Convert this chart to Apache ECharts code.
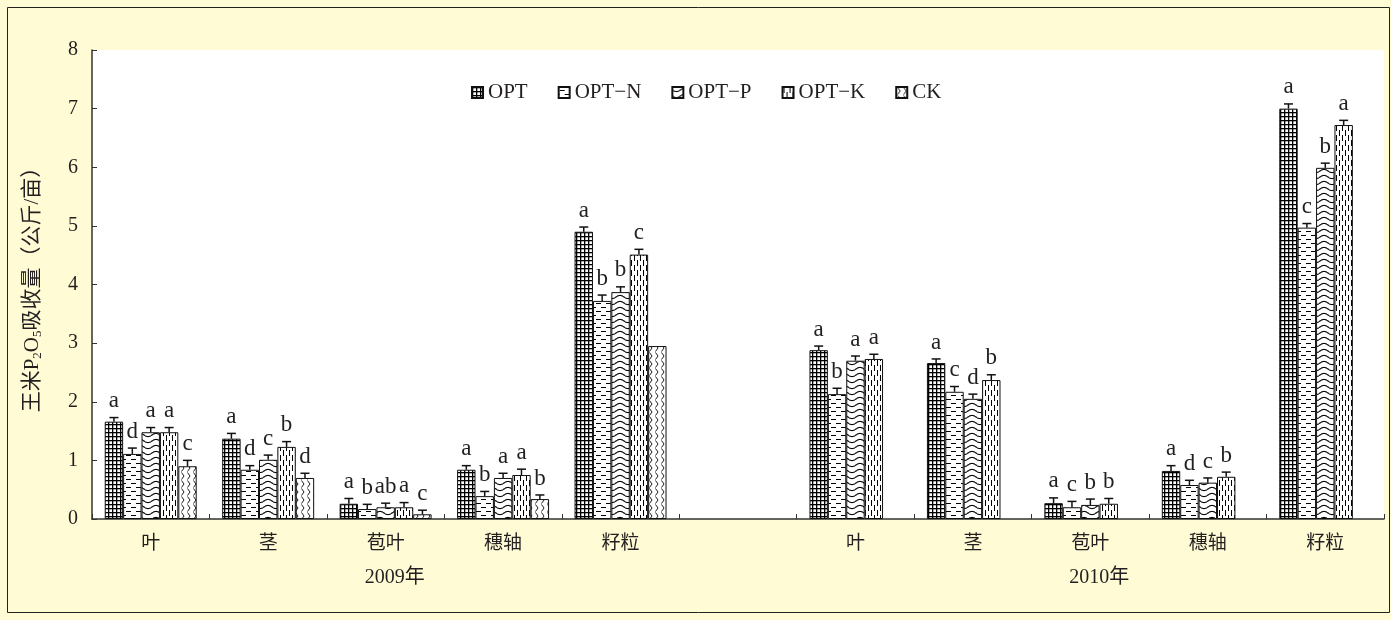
<!DOCTYPE html>
<html>
<head>
<meta charset="utf-8">
<script src="https://cdn.jsdelivr.net/npm/echarts@6/dist/echarts.min.js"></script>
<style>
html,body{margin:0;padding:0;background:#fffbd5;}
#chart{width:1391px;height:620px;}
</style>
</head>
<body>
<div id="chart"></div>
<script>
// ---- data ----
const categories = ['叶','茎','苞叶','穗轴','籽粒','','叶','茎','苞叶','穗轴','籽粒'];
const years = {2: '2009年', 8: '2010年'};
const seriesNames = ['OPT','OPT−N','OPT−P','OPT−K','CK'];
const yTicks = [0,1,2,3,4,5,6,7,8];

const valOPT  = [1.66, 1.37, 0.26, 0.84, 4.90, null, 2.88, 2.66, 0.27, 0.82, 7.00];
const valOPTN = [1.11, 0.84, 0.17, 0.39, 3.72, null, 2.13, 2.17, 0.20, 0.58, 4.97];
const valOPTP = [1.48, 1.01, 0.20, 0.70, 3.87, null, 2.70, 2.05, 0.24, 0.62, 5.99];
const valOPTK = [1.48, 1.23, 0.20, 0.75, 4.51, null, 2.73, 2.37, 0.26, 0.72, 6.72];
const valCK   = [0.90, 0.70, 0.08, 0.34, 2.95, null, null, null, null, null, null];

const errOPT  = [0.07, 0.09, 0.09, 0.07, 0.08, null, 0.07, 0.07, 0.09, 0.09, 0.08];
const errOPTN = [0.10, 0.07, 0.08, 0.08, 0.10, null, 0.10, 0.09, 0.10, 0.08, 0.07];
const errOPTP = [0.08, 0.08, 0.07, 0.08, 0.09, null, 0.08, 0.08, 0.10, 0.08, 0.08];
const errOPTK = [0.08, 0.09, 0.08, 0.10, 0.09, null, 0.08, 0.09, 0.09, 0.08, 0.08];
const errCK   = [0.10, 0.08, 0.07, 0.07, null, null, null, null, null, null, null];

const sigOPT  = ['a','a','a','a','a','', 'a','a','a','a','a'];
const sigOPTN = ['d','d','b','b','b','', 'b','c','c','d','c'];
const sigOPTP = ['a','c','ab','a','b','', 'a','d','b','c','b'];
const sigOPTK = ['a','b','a','a','c','', 'a','b','b','b','a'];
const sigCK   = ['c','d','c','b','', '', '','','','',''];

const values = [valOPT, valOPTN, valOPTP, valOPTK, valCK];
const errors = [errOPT, errOPTN, errOPTP, errOPTK, errCK];
const sigs   = [sigOPT, sigOPTN, sigOPTP, sigOPTK, sigCK];

// ---- styles ----
const SERIF = '"Liberation Serif","Noto Sans CJK SC",serif';
const TXT = '#231f20';
const CAT_GAP = 0.217;

function pat(w, h, draw) {
  const c = document.createElement('canvas');
  c.width = w; c.height = h;
  const g = c.getContext('2d');
  g.fillStyle = '#fff'; g.fillRect(0, 0, w, h);
  g.fillStyle = '#000'; g.strokeStyle = '#000';
  draw(g, w, h);
  return {image: c, repeat: 'repeat'};
}
const patterns = [
  pat(4, 4, g => { g.fillRect(0, 0, 4, 1.3); g.fillRect(0, 0, 1.3, 4); }),
  pat(10, 8, g => { g.fillRect(1, 3, 5, 1); g.fillRect(6, 7, 4, 1); g.fillRect(0, 7, 1, 1); }),
  pat(16, 6, (g, w) => {
    g.lineWidth = 1.1; g.beginPath();
    for (let x = -1; x <= w + 1; x += 0.5) {
      const y = 3 + 1.6 * Math.sin(2 * Math.PI * x / w);
      if (x === -1) g.moveTo(x, y); else g.lineTo(x, y);
    }
    g.stroke();
  }),
  pat(6, 10, g => { g.fillRect(1, 0, 1, 6); g.fillRect(4, 5, 1, 5); g.fillRect(4, 0, 1, 1); }),
  pat(6, 8, g => { g.lineWidth = 0.9; g.beginPath(); g.moveTo(1.5, 0.5); g.lineTo(4, 4); g.lineTo(1.5, 7.5); g.stroke(); })
];

const chart = echarts.init(document.getElementById('chart'));

const barSeries = seriesNames.map((name, i) => ({
  name: name,
  type: 'bar',
  barGap: 0,
  barCategoryGap: (CAT_GAP * 100) + '%',
  data: values[i].map(v => v == null ? '-' : v),
  itemStyle: {color: patterns[i], borderColor: '#111', borderWidth: 1},
  emphasis: {disabled: true},
  z: 2
}));

const errSeries = seriesNames.map((name, i) => ({
  type: 'custom',
  silent: true,
  z: 5,
  data: values[i].map((v, k) => [k, v, errors[i][k]]).filter(d => d[1] != null && d[2] != null),
  renderItem: function (params, api) {
    const k = api.value(0), v = api.value(1), e = api.value(2);
    const band = api.size([1, 0])[0];
    const bw = band * (1 - CAT_GAP) / seriesNames.length;
    const base = api.coord([k, v]);
    const x = base[0] + (i - (seriesNames.length - 1) / 2) * bw;
    const y0 = base[1];
    const y1 = api.coord([k, v + e])[1];
    const ls = {stroke: '#111', lineWidth: 1.5};
    return {
      type: 'group',
      children: [
        {type: 'line', shape: {x1: x, y1: y0, x2: x, y2: y1}, style: ls},
        {type: 'line', shape: {x1: x - 4.5, y1: y1, x2: x + 4.5, y2: y1}, style: ls},
        {type: 'text', x: x, y: y1 - 5, style: {text: sigs[i][k], font: '23px ' + SERIF, fill: TXT, align: 'center', verticalAlign: 'bottom'}}
      ]
    };
  }
}));

chart.setOption({
  backgroundColor: '#fffbd5',
  animation: false,
  graphic: [{
    type: 'rect', silent: true, z: 100,
    shape: {x: 7.5, y: 7.5, width: 1382, height: 605},
    style: {fill: 'none', stroke: '#222', lineWidth: 1}
  }],
  legend: {
    data: seriesNames,
    left: 466, top: 77,
    itemWidth: 11, itemHeight: 11,
    itemGap: 30,
    icon: 'rect',
    textStyle: {fontFamily: SERIF, fontSize: 21, color: TXT, padding: [0, 0, 0, 0]},
    selectedMode: false
  },
  grid: {left: 92, right: 7, top: 50, bottom: 101, show: true, backgroundColor: '#fff', borderWidth: 0},
  xAxis: {
    type: 'category',
    data: categories,
    boundaryGap: true,
    axisLine: {lineStyle: {color: '#333', width: 1.5}},
    axisTick: {show: true, inside: true, length: 5, lineStyle: {color: '#333'}},
    axisLabel: {
      interval: 0,
      margin: 9,
      color: TXT,
      formatter: function (v, idx) {
        if (years[idx]) return '{c|' + v + '}\n{y|' + years[idx] + '}';
        return '{c|' + v + '}';
      },
      rich: {
        c: {fontFamily: SERIF, fontSize: 19, lineHeight: 33, color: TXT},
        y: {fontFamily: SERIF, fontSize: 20, lineHeight: 33, color: TXT, padding: [0, 0, 0, 18]}
      }
    }
  },
  yAxis: {
    type: 'value',
    min: yTicks[0], max: yTicks[yTicks.length - 1], interval: 1,
    name: '{t|王米P}{s|2}{t|O}{s|5}{t|吸收量（公斤/亩）}',
    nameLocation: 'middle',
    nameRotate: 90,
    nameGap: 48,
    nameTextStyle: {
      rich: {
        t: {fontFamily: SERIF, fontSize: 21, color: TXT},
        s: {fontFamily: SERIF, fontSize: 13, color: TXT, padding: [11, 0, 0, 0]}
      }
    },
    axisLine: {show: true, lineStyle: {color: '#333', width: 1.5}},
    axisTick: {show: true, inside: true, length: 5, lineStyle: {color: '#333'}},
    splitLine: {show: false},
    axisLabel: {fontFamily: SERIF, fontSize: 20, color: TXT, margin: 14}
  },
  series: barSeries.concat(errSeries)
});
</script>
</body>
</html>
